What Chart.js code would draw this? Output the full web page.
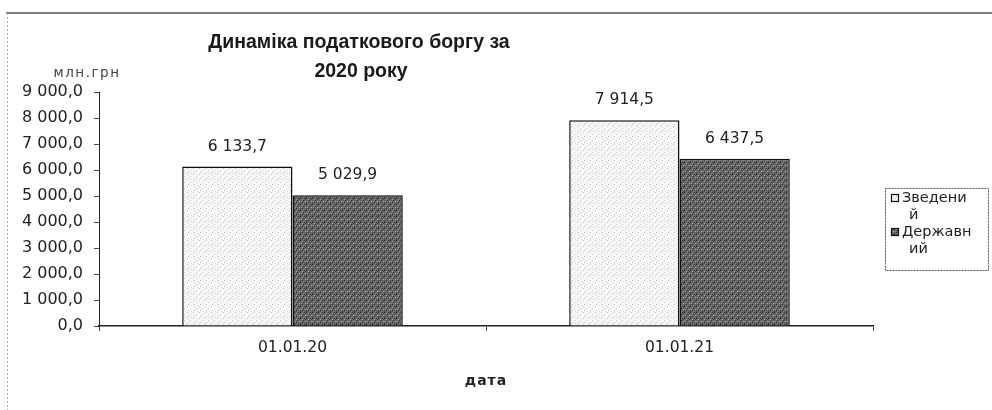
<!DOCTYPE html>
<html><head><meta charset="utf-8">
<script src="https://cdn.jsdelivr.net/npm/chart.js@4.4.1/dist/chart.umd.min.js"></script>
<style>html,body{margin:0;padding:0;background:#fff}#wrap{width:992px;height:410px;position:relative}</style>
</head><body><div id="wrap"><canvas id="c" width="992" height="410"></canvas></div>
<script>
const categories = ['01.01.20', '01.01.21'];
const seriesNames = ['Зведений', 'Державний'];
const legendLines = [['Зведени', 'й'], ['Державн', 'ий']];
const consolidated = [6133.7, 7914.5];
const stateBudget = [5029.9, 6437.5];
const titleLines = ['Динаміка податкового боргу за', '2020 року'];
const yUnit = 'млн.грн';
const xTitle = 'дата';
const yMin = 0, yMax = 9000, yStep = 1000;

function fmt(v) {
  const parts = Number(v).toFixed(1).split('.');
  return parts[0].replace(/\B(?=(\d{3})+(?!\d))/g, ' ') + ',' + parts[1];
}

const cv = document.getElementById('c');
const cctx = cv.getContext('2d');
function makePattern(base, dots) {
  const t = document.createElement('canvas'); t.width = 6; t.height = 6;
  const g = t.getContext('2d');
  g.fillStyle = base; g.fillRect(0, 0, 6, 6);
  dots.forEach(d => { g.fillStyle = d[2]; g.fillRect(d[0], d[1], 1, 1); });
  return cctx.createPattern(t, 'repeat');
}
const lightFill = makePattern('#f6f6f6', [[1,0,'#c8c8c8'],[4,2,'#d0d0d0'],[2,4,'#bdbdbd'],[5,5,'#dadada']]);
const darkFill = makePattern('#666666', [[0,0,'#2a2a2a'],[2,1,'#a0a0a0'],[4,0,'#3a3a3a'],[1,3,'#909090'],[3,2,'#333'],[5,3,'#a8a8a8'],[0,5,'#383838'],[3,5,'#808080'],[5,1,'#454545'],[2,4,'#262626']]);

const FONT = 'DejaVu Sans';

const decor = {
  id: 'decor',
  beforeDraw(chart) {
    const ctx = chart.ctx;
    ctx.save();
    ctx.strokeStyle = '#555'; ctx.lineWidth = 1.5;
    ctx.beginPath(); ctx.moveTo(6, 13); ctx.lineTo(992, 13); ctx.stroke();
    ctx.strokeStyle = '#aaa'; ctx.lineWidth = 1; ctx.setLineDash([2, 2]);
    ctx.beginPath(); ctx.moveTo(7.5, 13); ctx.lineTo(7.5, 410); ctx.stroke();
    ctx.restore();
  },
  afterDraw(chart) {
    const ctx = chart.ctx;
    const area = chart.chartArea;
    ctx.save();
    ctx.fillStyle = '#1a1a1a';
    ctx.font = 'bold 19.5px "Liberation Sans"';
    ctx.textAlign = 'center'; ctx.textBaseline = 'middle';
    ctx.fillText(titleLines[0], 359, 43);
    ctx.fillText(titleLines[1], 361, 72);
    ctx.letterSpacing = '1.5px';
    ctx.font = '13.5px ' + FONT;
    ctx.fillStyle = '#444';
    ctx.fillText(yUnit, 87, 73);
    ctx.font = 'bold 14px ' + FONT;
    ctx.letterSpacing = '1px';
    ctx.fillStyle = '#222';
    ctx.fillText(xTitle, (area.left + area.right) / 2, 381);
    ctx.font = '15.5px ' + FONT;
    ctx.letterSpacing = '0px';
    ctx.fillStyle = '#222';
    chart.data.datasets.forEach((ds, di) => {
      const meta = chart.getDatasetMeta(di);
      meta.data.forEach((el, i) => {
        ctx.fillText(fmt(ds.data[i]), el.x, el.y - 20);
      });
    });
    const bx = 885, by = 188, bw = 103, bh = 82;
    ctx.setLineDash([2, 1]);
    ctx.strokeStyle = '#555'; ctx.lineWidth = 1;
    ctx.strokeRect(bx + 0.5, by + 0.5, bw, bh);
    ctx.setLineDash([]);
    ctx.font = '14.5px ' + FONT;
    ctx.textAlign = 'left';
    const fills = [lightFill, darkFill];
    const rows = [[198, 215], [232, 249]];
    legendLines.forEach((lines, k) => {
      ctx.fillStyle = fills[k];
      ctx.fillRect(891, rows[k][0] - 4, 8, 8);
      ctx.strokeStyle = '#111'; ctx.lineWidth = 1.2;
      ctx.strokeRect(891.5, rows[k][0] - 3.5, 7, 7);
      ctx.fillStyle = '#222';
      ctx.fillText(lines[0], 902, rows[k][0]);
      ctx.fillText(lines[1], 909, rows[k][1]);
    });
    ctx.restore();
  }
};

new Chart(cv, {
  type: 'bar',
  data: {
    labels: categories,
    datasets: [
      { label: seriesNames[0], data: consolidated, backgroundColor: lightFill, borderColor: '#111', borderWidth: 1.5, borderSkipped: 'bottom' },
      { label: seriesNames[1], data: stateBudget, backgroundColor: darkFill, borderColor: '#111', borderWidth: 1.5, borderSkipped: 'bottom' }
    ]
  },
  options: {
    responsive: false,
    animation: false,
    events: [],
    layout: { padding: { top: 92, right: 119, left: 0, bottom: 0 } },
    datasets: { bar: { categoryPercentage: 0.57, barPercentage: 1 } },
    plugins: { legend: { display: false }, title: { display: false }, tooltip: { enabled: false } },
    scales: {
      x: {
        grid: { display: true, drawOnChartArea: false, drawTicks: true, tickLength: 5, color: '#444', offset: true },
        border: { display: true, color: '#222', width: 1.5 },
        ticks: { font: { family: FONT, size: 15.5 }, color: '#222', padding: 8 },
        afterFit(s) { s.height = 84; }
      },
      y: {
        min: yMin, max: yMax,
        grid: { display: true, drawOnChartArea: false, drawTicks: true, tickLength: 5, color: '#444' },
        border: { display: true, color: '#222', width: 1 },
        ticks: { stepSize: yStep, callback: v => fmt(v), font: { family: FONT, size: 16 }, color: '#222', padding: 11 },
        afterFit(s) { s.width = 99; }
      }
    }
  },
  plugins: [decor]
});
</script>
</body></html>
